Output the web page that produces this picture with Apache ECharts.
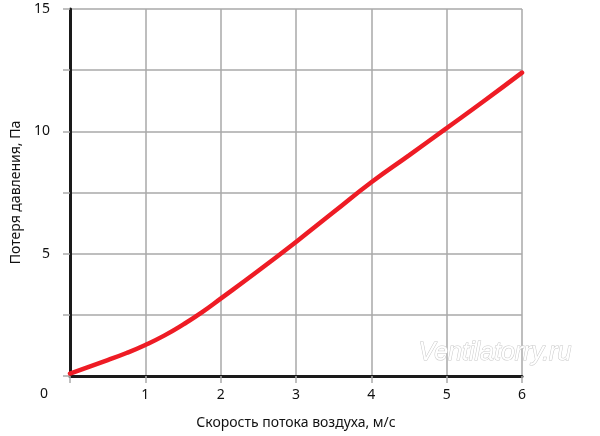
<!DOCTYPE html>
<html>
<head>
<meta charset="utf-8">
<script src="https://cdn.jsdelivr.net/npm/echarts@6/dist/echarts.min.js"></script>
<style>html,body{margin:0;padding:0;background:#fff;}#c{width:600px;height:436px;}</style>
</head>
<body>
<div id="c"></div>
<script>
var speeds = [0, 0.5, 0.75, 1, 1.25, 1.5, 1.75, 2, 2.5, 3, 3.5, 4, 4.5, 5, 5.5, 6];
var pressureLoss = [0.1, 0.65, 0.94, 1.27, 1.65, 2.1, 2.6, 3.16, 4.3, 5.48, 6.7, 7.92, 9.02, 10.13, 11.25, 12.4];
var yTickLabels = [5, 10, 15];
var xName = 'Скорость потока воздуха, м/с';
var yName = 'Потеря давления, Па';
var watermark = 'Ventilatorry.ru';

var font = 'Noto Sans';
var chart = echarts.init(document.getElementById('c'), null, {renderer: 'canvas'});
chart.setOption({
  animation: false,
  backgroundColor: '#fff',
  grid: {left: 70, right: 78, top: 9, bottom: 60, containLabel: false, outerBoundsMode: 'none'},
  xAxis: {
    type: 'value', min: 0, max: 6, interval: 1,
    name: xName, nameLocation: 'middle', nameGap: 40,
    nameTextStyle: {color: '#111', fontSize: 14, fontFamily: font},
    axisLine: {show: true, onZero: false, lineStyle: {color: '#1a1a1a', width: 3}},
    axisTick: {show: true, length: 7, lineStyle: {color: '#aaa', width: 1.5}},
    axisLabel: {color: '#111', fontSize: 14, fontFamily: font, margin: 12,
      formatter: function (v) { return v === 0 ? '' : String(v); }},
    splitLine: {show: true, lineStyle: {color: '#a8a8a8', width: 1.5}}
  },
  yAxis: {
    type: 'value', min: 0, max: 15, interval: 2.5,
    name: yName, nameLocation: 'middle', nameGap: 46, nameRotate: 90,
    nameTextStyle: {color: '#111', fontSize: 14, fontFamily: font},
    axisLine: {show: true, lineStyle: {color: '#1a1a1a', width: 3}},
    axisTick: {show: true, length: 7, lineStyle: {color: '#aaa', width: 1.5}},
    axisLabel: {color: '#111', fontSize: 14, fontFamily: font, margin: 20,
      formatter: function (v) { return yTickLabels.indexOf(v) >= 0 ? String(v) : ''; }},
    splitLine: {show: true, lineStyle: {color: '#a8a8a8', width: 1.5}}
  },
  graphic: [
    {type: 'text', left: 40, top: 387, style: {text: '0', fill: '#111', fontSize: 14, fontFamily: font}},
    {type: 'text', left: 418, top: 340, z: 1, style: {text: watermark, fill: '#fff', stroke: '#c8c8c8', lineWidth: 1,
      fontSize: 25, fontStyle: 'italic', fontFamily: 'Liberation Sans'}}
  ],
  series: [{
    type: 'line', smooth: 0.5, showSymbol: false, z: 5,
    data: speeds.map(function (s, i) { return [s, pressureLoss[i]]; }),
    lineStyle: {color: '#ee1c25', width: 4.5, cap: 'round'}
  }]
});
</script>
</body>
</html>
